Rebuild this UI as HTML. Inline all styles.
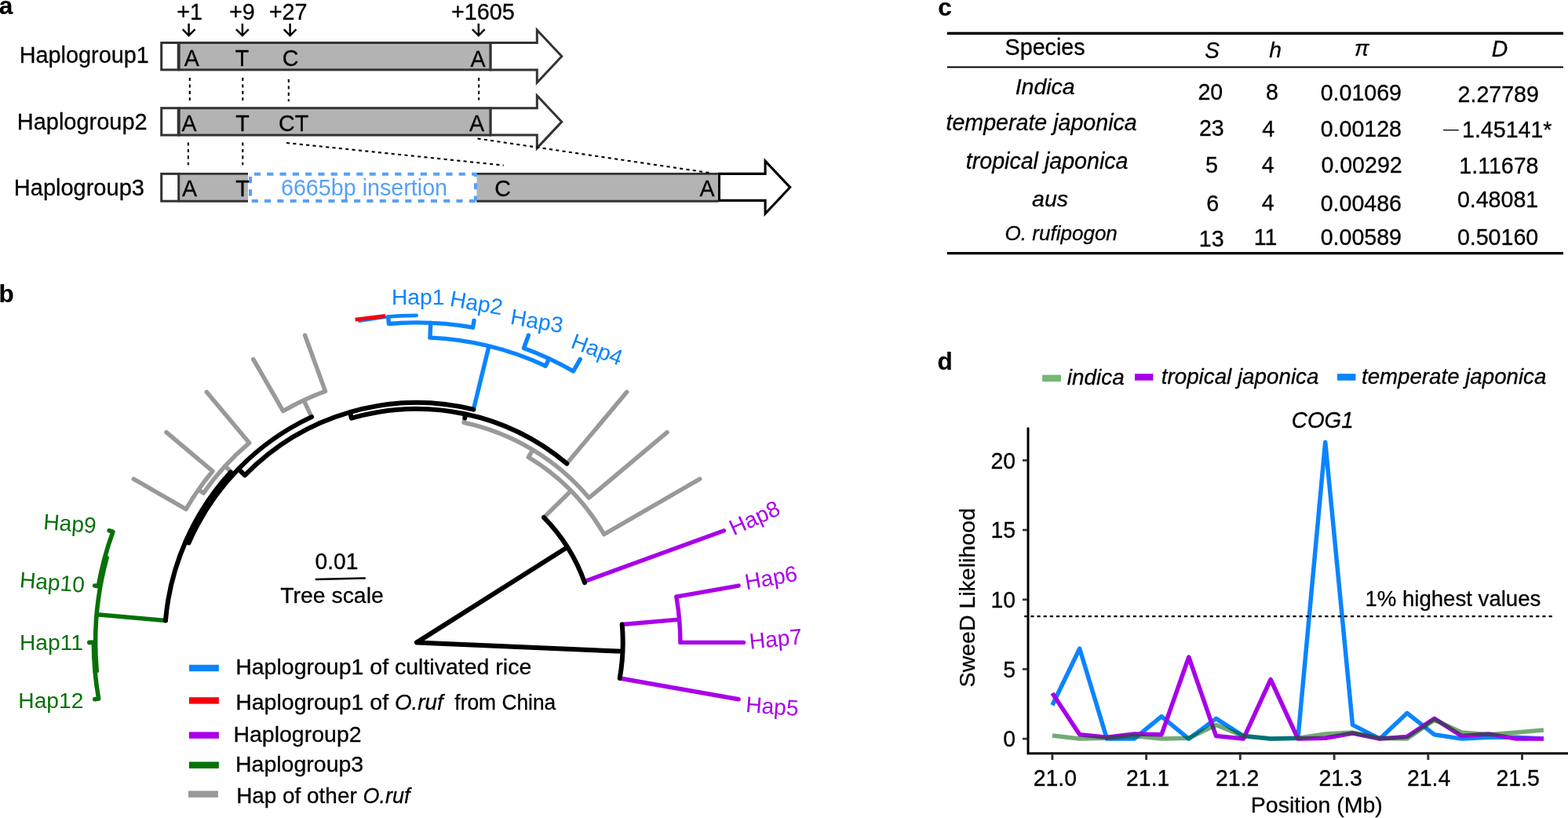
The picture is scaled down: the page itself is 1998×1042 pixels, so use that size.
<!DOCTYPE html>
<html lang="en">
<head>
<meta charset="utf-8">
<title>Figure</title>
<style>
html,body{margin:0;padding:0;background:#fff;}
body{width:1998px;height:1042px;overflow:hidden;}
svg{display:block;font-family:"Liberation Sans",Arial,Helvetica,sans-serif;}
text{stroke-width:0.3px;stroke-linejoin:round;}
text[font-weight]{stroke-width:0.2px;}
</style>
</head>
<body>
<svg width="1998" height="1042" viewBox="0 0 1998 1042">
<rect width="1998" height="1042" fill="#fff"/>
<g id="panel-a">
<text x="-1.20" y="18.30" font-size="31.50" font-weight="bold" stroke="#000">a</text>
<text font-size="28.80" stroke="#000" transform="translate(225.19 24.60) scale(1 1.04)">+1</text>
<text font-size="28.80" stroke="#000" transform="translate(291.89 24.60) scale(1 1.04)">+9</text>
<text font-size="28.80" stroke="#000" transform="translate(342.69 24.60) scale(1 1.04)">+27</text>
<text font-size="28.80" stroke="#000" transform="translate(574.89 24.60) scale(1 1.04)">+1605</text>
<path d="M240.6 29.9V45.2M232.7 37.4L240.6 45.3L248.5 37.4" fill="none" stroke="#000" stroke-width="2.45"/>
<path d="M308.9 29.9V45.2M301.0 37.4L308.9 45.3L316.8 37.4" fill="none" stroke="#000" stroke-width="2.45"/>
<path d="M369.6 29.9V45.2M361.7 37.4L369.6 45.3L377.5 37.4" fill="none" stroke="#000" stroke-width="2.45"/>
<path d="M609.8 29.9V45.2M601.9 37.4L609.8 45.3L617.7 37.4" fill="none" stroke="#000" stroke-width="2.45"/>
<path d="M624.9 54.5H684.3V38.30L715.8 71.75L684.3 105.20V88.9H624.9Z" fill="#fff" stroke="#333" stroke-width="3" stroke-linejoin="miter" stroke-miterlimit="10"/>
<rect x="228.2" y="54.5" width="396.7" height="34.40" fill="#b3b3b3" stroke="#333" stroke-width="3"/>
<rect x="205.7" y="54.5" width="21.5" height="34.40" fill="#fff" stroke="#333" stroke-width="3"/>
<path d="M624.9 137.7H684.3V121.70L715.8 155.15L684.3 188.60V172.1H624.9Z" fill="#fff" stroke="#333" stroke-width="3" stroke-linejoin="miter" stroke-miterlimit="10"/>
<rect x="228.2" y="137.7" width="396.7" height="34.40" fill="#b3b3b3" stroke="#333" stroke-width="3"/>
<rect x="205.7" y="137.7" width="21.5" height="34.40" fill="#fff" stroke="#333" stroke-width="3"/>
<path d="M916.4 221.4H975.1V205.1L1006.7 238.6L975.1 272.2V255.4H916.4Z" fill="#fff" stroke="#000" stroke-width="3.1" stroke-linejoin="miter" stroke-miterlimit="10"/>
<path d="M607.5 221.4H915V256.2H607.5Z" fill="#b3b3b3"/><path d="M607.2 221.4H915.6M607.2 256.2H915.6" stroke="#333" stroke-width="2.9" fill="none"/>
<path d="M228 221.4H316V256.2H228Z" fill="#b3b3b3"/><path d="M228 221.4H316M228 256.2H316" stroke="#333" stroke-width="2.9" fill="none"/>
<rect x="205.7" y="221.4" width="22" height="34.80" fill="#fff" stroke="#333" stroke-width="3"/>
<path d="M605.9 256H319V221.8H605.9V256" fill="#fff" stroke="#55a0f8" stroke-width="4" stroke-dasharray="8.15 8.15"/>
<text x="24.63" y="79.60" font-size="28.86" stroke="#000">Haplogroup1</text>
<text x="21.82" y="165.20" font-size="28.96" stroke="#000">Haplogroup2</text>
<text x="17.82" y="249.20" font-size="29.00" stroke="#000">Haplogroup3</text>
<text font-size="28.60" stroke="#000" transform="translate(234.64 84.20) scale(1 1.04)">A</text>
<text font-size="28.60" stroke="#000" transform="translate(299.66 84.20) scale(1 1.04)">T</text>
<text font-size="28.60" stroke="#000" transform="translate(359.65 84.20) scale(1 1.04)">C</text>
<text font-size="28.60" stroke="#000" transform="translate(599.44 84.50) scale(1 1.04)">A</text>
<text font-size="28.60" stroke="#000" transform="translate(231.44 166.60) scale(1 1.04)">A</text>
<text font-size="28.60" stroke="#000" transform="translate(300.36 166.60) scale(1 1.04)">T</text>
<text font-size="28.60" stroke="#000" transform="translate(355.05 166.60) scale(1 1.04)">CT</text>
<text font-size="28.60" stroke="#000" transform="translate(597.94 167.00) scale(1 1.04)">A</text>
<text font-size="28.60" stroke="#000" transform="translate(231.94 250.20) scale(1 1.04)">A</text>
<text font-size="28.60" stroke="#000" transform="translate(300.26 250.00) scale(1 1.04)">T</text>
<text font-size="28.60" stroke="#000" transform="translate(630.15 249.80) scale(1 1.04)">C</text>
<text font-size="28.60" stroke="#000" transform="translate(891.44 249.90) scale(1 1.04)">A</text>
<text x="357.94" y="249.20" font-size="28.70" fill="#55a0f8">6665bp insertion</text>
<path d="M241.8 99V128" stroke="#000" stroke-width="2.1" stroke-dasharray="4.1 4.3" fill="none"/>
<path d="M309.3 99V128" stroke="#000" stroke-width="2.1" stroke-dasharray="4.1 4.3" fill="none"/>
<path d="M367.8 101V129.2" stroke="#000" stroke-width="2.1" stroke-dasharray="4.1 4.3" fill="none"/>
<path d="M610.1 99V127.6" stroke="#000" stroke-width="2.1" stroke-dasharray="4.1 4.3" fill="none"/>
<path d="M239.9 181.5V210.2" stroke="#000" stroke-width="2.1" stroke-dasharray="4.1 4.3" fill="none"/>
<path d="M309.3 181.5V210.2" stroke="#000" stroke-width="2.1" stroke-dasharray="4.1 4.3" fill="none"/>
<path d="M365 182L641.8 210.6" stroke="#000" stroke-width="2.1" stroke-dasharray="4.1 4.3" fill="none"/>
<path d="M608.5 176.5L903.3 220" stroke="#000" stroke-width="2.1" stroke-dasharray="4.1 4.3" fill="none"/>
</g>
<g id="panel-c">
<text x="1195.17" y="19.70" font-size="31.50" font-weight="bold" stroke="#000">c</text>
<path d="M1206.8 42.5H1992" stroke="#000" stroke-width="3.3"/>
<path d="M1206.8 85.5H1992" stroke="#000" stroke-width="2.1"/>
<path d="M1206.8 322.7H1992" stroke="#000" stroke-width="3.3"/>
<text x="1280.49" y="69.80" font-size="28.74" stroke="#000">Species</text>
<text font-size="27.87" font-style="italic" stroke="#000" transform="translate(1535.31 73.50) scale(1 1.04)">S</text>
<text x="1617.23" y="73.30" font-size="28.36" font-style="italic" stroke="#000">h</text>
<text x="1725.97" y="70.80" font-size="27.79" font-style="italic" stroke="#000">π</text>
<text font-size="28.37" font-style="italic" stroke="#000" transform="translate(1900.63 72.30) scale(1 1.04)">D</text>
<text x="1293.67" y="119.80" font-size="28.48" font-style="italic" stroke="#000">Indica</text>
<text x="1205.50" y="166.00" font-size="28.60" font-style="italic" stroke="#000">temperate japonica</text>
<text x="1230.80" y="215.20" font-size="28.60" font-style="italic" stroke="#000">tropical japonica</text>
<text x="1315.06" y="262.90" font-size="28.55" font-style="italic" stroke="#000">aus</text>
<text x="1280.59" y="306.20" font-size="26.04" font-style="italic" stroke="#000">O. rufipogon</text>
<text font-size="28.60" stroke="#000" transform="translate(1526.46 126.60) scale(1 1.04)">20</text>
<text font-size="28.60" stroke="#000" transform="translate(1612.96 126.60) scale(1 1.04)">8</text>
<text font-size="28.60" stroke="#000" transform="translate(1682.68 127.70) scale(1 1.04)">0.01069</text>
<text font-size="28.60" stroke="#000" transform="translate(1857.56 130.00) scale(1 1.04)">2.27789</text>
<text font-size="28.60" stroke="#000" transform="translate(1527.96 173.40) scale(1 1.04)">23</text>
<text font-size="28.60" stroke="#000" transform="translate(1608.24 173.50) scale(1 1.04)">4</text>
<text font-size="28.60" stroke="#000" transform="translate(1682.68 173.50) scale(1 1.04)">0.00128</text>
<text font-size="28.60" stroke="#000" transform="translate(1863.02 174.50) scale(1 1.04)">1.45141*</text>
<text font-size="28.60" stroke="#000" transform="translate(1536.05 220.30) scale(1 1.04)">5</text>
<text font-size="28.60" stroke="#000" transform="translate(1607.84 219.90) scale(1 1.04)">4</text>
<text font-size="28.60" stroke="#000" transform="translate(1683.38 219.90) scale(1 1.04)">0.00292</text>
<text font-size="28.60" stroke="#000" transform="translate(1859.32 221.30) scale(1 1.04)">1.11678</text>
<text font-size="28.60" stroke="#000" transform="translate(1537.35 268.60) scale(1 1.04)">6</text>
<text font-size="28.60" stroke="#000" transform="translate(1607.84 267.50) scale(1 1.04)">4</text>
<text font-size="28.60" stroke="#000" transform="translate(1682.68 268.60) scale(1 1.04)">0.00486</text>
<text font-size="28.60" stroke="#000" transform="translate(1856.88 264.00) scale(1 1.04)">0.48081</text>
<text font-size="28.60" stroke="#000" transform="translate(1527.82 314.20) scale(1 1.04)">13</text>
<text font-size="28.60" stroke="#000" transform="translate(1597.72 311.70) scale(1 1.04)">11</text>
<text font-size="28.60" stroke="#000" transform="translate(1682.68 312.30) scale(1 1.04)">0.00589</text>
<text font-size="28.60" stroke="#000" transform="translate(1856.88 312.30) scale(1 1.04)">0.50160</text>
<text font-size="28.6" stroke="none" transform="translate(1836.9 172) scale(1.417 0.66)">−</text>
</g>
<g id="panel-b">
<text x="-1.40" y="385.30" font-size="31.50" font-weight="bold" stroke="#000">b</text>
<path d="M693.05 659.15L727.57 625.23M673.36 582.41A275.6 275.6 0 0 1 769.68 680.60M769.68 680.60L891.70 610.15M673.36 582.41L678.99 573.08M591.06 538.27A286.5 286.5 0 0 1 750.47 634.24M750.47 634.24L850.06 550.68M591.06 538.27L592.00 533.87M722.23 590.50L798.72 499.34M397.03 531.10L387.10 509.80M360.75 523.52A340.5 340.5 0 0 1 414.54 498.43M414.54 498.43L388.55 427.02M360.75 523.52L322.75 457.70M294.71 601.12L286.76 593.81M259.21 628.09A331.8 331.8 0 0 1 317.72 564.23M317.72 564.23L263.28 499.34M259.21 628.09L252.90 623.67M236.98 648.65A339.5 339.5 0 0 1 270.93 600.17M270.93 600.17L211.94 550.68M236.98 648.65L170.30 610.15" fill="none" stroke="#999999" stroke-width="5.5" stroke-linecap="round" stroke-linejoin="round"/>
<path d="M744.50 740.69L922.38 675.95M789.71 864.02L941.17 890.72M792.70 795.50L865.62 789.12M861.80 760.07A335.9 335.9 0 0 1 866.90 818.40M861.80 760.07L941.17 746.08M866.90 818.40L947.50 818.40" fill="none" stroke="#a800ea" stroke-width="5.4" stroke-linecap="round" stroke-linejoin="round"/>
<path d="M211.22 790.42L123.16 782.72M136.11 710.37A409.4 409.4 0 0 0 123.22 854.79M143.85 677.49A412 412 0 0 0 125.26 746.86M119.40 818.40A411.6 411.6 0 0 0 125.65 889.87M143.85 677.49L139.15 675.78M125.26 746.86L120.63 746.04M119.40 818.40L113.80 818.40M125.65 889.87L120.73 890.74" fill="none" stroke="#077107" stroke-width="5.6" stroke-linecap="round" stroke-linejoin="round"/>
<path d="M457.6 409.4L490.6 404.6" fill="none" stroke="#0a84ff" stroke-width="3" stroke-linecap="round"/>
<path d="M603.35 521.59L623.04 440.86M547.95 430.17A388.6 388.6 0 0 1 695.23 466.21M547.95 430.17L548.77 411.29M495.48 412.45A407.5 407.5 0 0 1 602.46 417.21M602.46 417.21L604.04 408.35M495.48 412.45L494.75 404.08M695.23 466.21L699.62 456.78M667.47 443.46A399 399 0 0 1 730.50 472.86M667.47 443.46L673.45 427.02M730.50 472.86L739.25 457.70" fill="none" stroke="#0a84ff" stroke-width="5.4" stroke-linecap="round" stroke-linejoin="round"/>
<path d="M493.24 403.51A416.6 416.6 0 0 1 530.64 401.80" fill="none" stroke="#0a84ff" stroke-width="4.7" stroke-linecap="round" stroke-linejoin="round"/>
<path d="M452.6 407.1L491 402.5" fill="none" stroke="#f5000f" stroke-width="4.9"/>
<path d="M531.0 818.4L723.04 697.00M693.05 659.15A227.2 227.2 0 0 1 745.04 742.19M531.0 818.4L793.45 829.86M792.70 795.50A262.7 262.7 0 0 1 789.71 864.02M592.31 532.40L593.36 527.51M448.00 532.71A297.5 297.5 0 0 1 722.23 590.50M448.00 532.71L445.77 525.03M311.98 605.42A305.5 305.5 0 0 1 603.35 521.59M311.98 605.42L303.74 597.40M240.51 691.49A317 317 0 0 1 397.03 531.10M240.51 691.49L236.57 689.77M210.92 790.40A321.3 321.3 0 0 1 293.73 601.75" fill="none" stroke="#000" stroke-width="6" stroke-linecap="round" stroke-linejoin="round"/>
<text x="498.99" y="387.80" font-size="28.20" fill="#0a84ff">Hap1</text>
<text x="572.22" y="389.60" font-size="28.20" fill="#0a84ff" transform="rotate(10 572.22 389.60)">Hap2</text>
<text x="649.22" y="412.60" font-size="28.20" fill="#0a84ff" transform="rotate(10 649.22 412.60)">Hap3</text>
<text x="725.93" y="442.49" font-size="28.20" fill="#0a84ff" transform="rotate(20.5 725.93 442.49)">Hap4</text>
<text x="934.70" y="682.56" font-size="28.20" fill="#a800ea" transform="rotate(-24.5 934.70 682.56)">Hap8</text>
<text x="950.92" y="751.20" font-size="28.20" fill="#a800ea" transform="rotate(-10 950.92 751.20)">Hap6</text>
<text x="955.70" y="826.82" font-size="28.20" fill="#a800ea" transform="rotate(-5.5 955.70 826.82)">Hap7</text>
<text x="949.69" y="906.82" font-size="28.20" fill="#a800ea" transform="rotate(4.5 949.69 906.82)">Hap5</text>
<text x="54.79" y="674.02" font-size="28.20" fill="#077107" transform="rotate(4.5 54.79 674.02)">Hap9</text>
<text x="24.39" y="748.12" font-size="28.20" fill="#077107" transform="rotate(4.5 24.39 748.12)">Hap10</text>
<text x="24.99" y="827.50" font-size="28.20" fill="#077107">Hap11</text>
<text x="23.29" y="902.00" font-size="28.20" fill="#077107">Hap12</text>
<text font-size="28.20" text-anchor="middle" stroke="#000" transform="translate(429.00 725.00) scale(1 1.04)">0.01</text>
<path d="M402.8 738L464.8 736.5" stroke="#000" stroke-width="2.6" stroke-linecap="round"/>
<text x="423.00" y="768.00" font-size="28.40" text-anchor="middle" stroke="#000">Tree scale</text>
<rect x="240.9" y="846.8" width="38" height="8.4" fill="#0a84ff"/>
<rect x="240.9" y="888.2" width="38" height="8.4" fill="#f5000f"/>
<rect x="240.9" y="932.4" width="38" height="8.4" fill="#a800ea"/>
<rect x="240.9" y="970.4" width="38" height="8.4" fill="#077107"/>
<rect x="239.9" y="1007.4" width="38" height="8.4" fill="#999999"/>
<text x="300.20" y="859.00" font-size="28.50" stroke="#000">Haplogroup1 of cultivated rice</text>
<text x="300.2" y="903.8" font-size="28.5" stroke="#000">Haplogroup1 of <tspan font-style="italic" font-size="27.8">O.ruf</tspan><tspan dx="14.5" textLength="129" lengthAdjust="spacingAndGlyphs">from China</tspan></text>
<text x="297.40" y="945.30" font-size="28.50" stroke="#000">Haplogroup2</text>
<text x="300.00" y="983.30" font-size="28.50" stroke="#000">Haplogroup3</text>
<text x="301.2" y="1022.7" font-size="27.9" stroke="#000">Hap of other <tspan font-style="italic" font-size="27">O.ruf</tspan></text>
</g>
<g id="panel-d">
<text x="1194.40" y="470.80" font-size="31.50" font-weight="bold" stroke="#000">d</text>
<rect x="1328.2" y="477.5" width="23.8" height="8.6" fill="#73b973"/>
<text x="1359.85" y="490.00" font-size="27.90" font-style="italic" stroke="#000">indica</text>
<rect x="1446" y="476.1" width="23.4" height="8.6" fill="#a800ea"/>
<text x="1479.74" y="488.90" font-size="27.77" font-style="italic" stroke="#000">tropical japonica</text>
<rect x="1704" y="476.1" width="23.4" height="8.6" fill="#0a84ff"/>
<text x="1734.94" y="489.30" font-size="27.68" font-style="italic" stroke="#000">temperate japonica</text>
<text font-size="27.80" font-style="italic" stroke="#000" transform="translate(1645.87 544.80) scale(1 1.04)">COG1</text>
<polyline points="1340.9,898.2 1375.7,826.2 1410.5,941.1 1445.2,941.1 1480.0,912.7 1514.8,941.1 1549.6,915.4 1584.4,937.6 1619.1,941.1 1653.9,940.2 1688.7,563.3 1723.5,923.4 1758.3,941.1 1793.0,908.3 1827.8,935.8 1862.6,941.1 1897.4,939.3 1932.2,939.3 1966.9,941.1" fill="none" stroke="#0a84ff" stroke-width="5.5" stroke-linejoin="round"/>
<polyline points="1340.9,883.1 1375.7,935.8 1410.5,939.3 1445.2,934.9 1480.0,935.8 1514.8,837.0 1549.6,937.6 1584.4,941.1 1619.1,865.5 1653.9,941.1 1688.7,940.2 1723.5,934.0 1758.3,941.1 1793.0,938.4 1827.8,915.4 1862.6,937.6 1897.4,934.9 1932.2,941.1 1966.9,941.1" fill="none" stroke="#a800ea" stroke-width="5.5" stroke-linejoin="round"/>
<polyline points="1340.9,937.0 1375.7,941.1 1410.5,940.2 1445.2,937.6 1480.0,941.1 1514.8,940.2 1549.6,923.4 1584.4,937.6 1619.1,941.1 1653.9,940.2 1688.7,934.9 1723.5,933.1 1758.3,940.2 1793.0,941.1 1827.8,917.0 1862.6,933.1 1897.4,935.8 1932.2,933.1 1966.9,930.1" fill="none" stroke="#006400" stroke-width="5.5" stroke-linejoin="round" stroke-opacity="0.55"/>
<path d="M1305.2 785.1H1980" stroke="#000" stroke-width="2.1" stroke-dasharray="4.2 3.95"/>
<path d="M1310 544.6V959.7H1998" fill="none" stroke="#000" stroke-width="3"/>
<path d="M1303 941.1H1309" stroke="#333" stroke-width="2.7"/>
<text font-size="28.40" text-anchor="end" stroke="#000" transform="translate(1294.00 951.40) scale(1 1.04)">0</text>
<path d="M1303 852.4H1309" stroke="#333" stroke-width="2.7"/>
<text font-size="28.40" text-anchor="end" stroke="#000" transform="translate(1294.00 862.70) scale(1 1.04)">5</text>
<path d="M1303 763.8H1309" stroke="#333" stroke-width="2.7"/>
<text font-size="28.40" text-anchor="end" stroke="#000" transform="translate(1294.00 774.00) scale(1 1.04)">10</text>
<path d="M1303 675.1H1309" stroke="#333" stroke-width="2.7"/>
<text font-size="28.40" text-anchor="end" stroke="#000" transform="translate(1294.00 685.40) scale(1 1.04)">15</text>
<path d="M1303 586.4H1309" stroke="#333" stroke-width="2.7"/>
<text font-size="28.40" text-anchor="end" stroke="#000" transform="translate(1294.00 596.70) scale(1 1.04)">20</text>
<path d="M1340.9 960V968" stroke="#333" stroke-width="2.9"/>
<text font-size="28.40" text-anchor="middle" stroke="#000" transform="translate(1344.40 1000.50) scale(1 1.04)">21.0</text>
<path d="M1460.6 960V968" stroke="#333" stroke-width="2.9"/>
<text font-size="28.40" text-anchor="middle" stroke="#000" transform="translate(1462.70 1000.50) scale(1 1.04)">21.1</text>
<path d="M1580.3 960V968" stroke="#333" stroke-width="2.9"/>
<text font-size="28.40" text-anchor="middle" stroke="#000" transform="translate(1576.70 1000.50) scale(1 1.04)">21.2</text>
<path d="M1700.1 960V968" stroke="#333" stroke-width="2.9"/>
<text font-size="28.40" text-anchor="middle" stroke="#000" transform="translate(1708.20 1000.50) scale(1 1.04)">21.3</text>
<path d="M1819.8 960V968" stroke="#333" stroke-width="2.9"/>
<text font-size="28.40" text-anchor="middle" stroke="#000" transform="translate(1820.60 1000.50) scale(1 1.04)">21.4</text>
<path d="M1939.5 960V968" stroke="#333" stroke-width="2.9"/>
<text font-size="28.40" text-anchor="middle" stroke="#000" transform="translate(1934.20 1000.50) scale(1 1.04)">21.5</text>
<text x="1677.80" y="1035.20" font-size="28.50" text-anchor="middle" stroke="#000">Position (Mb)</text>
<text x="1242.20" y="761.30" font-size="28.50" text-anchor="middle" stroke="#000" transform="rotate(-90 1242.20 761.30)">SweeD Likelihood</text>
<text x="1851.40" y="772.40" font-size="27.60" text-anchor="middle" stroke="#000">1% highest values</text>
</g>
</svg>
</body>
</html>
